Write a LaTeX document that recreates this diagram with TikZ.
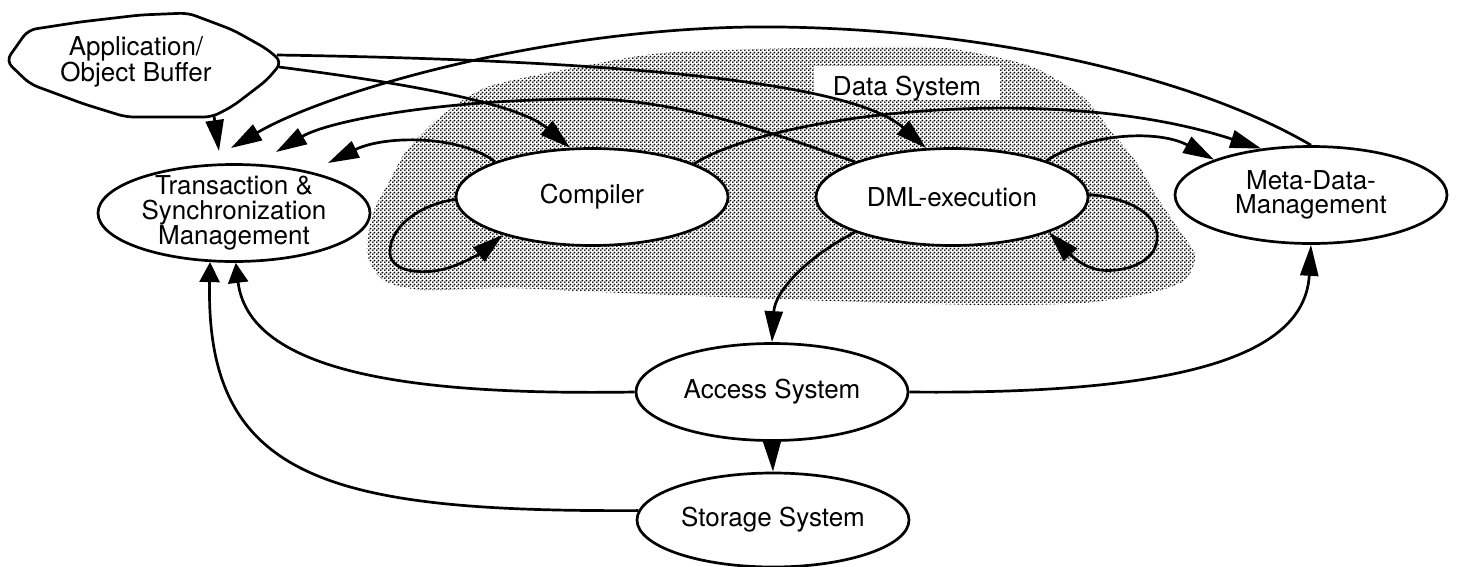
\documentclass[tikz,border=0pt]{standalone}
\usepackage{fontspec}
\setmainfont{TeX Gyre Heros}
\usetikzlibrary{arrows.meta,shapes.geometric,patterns.meta}

\newcommand\diagfont{\fontsize{26}{24.5}\selectfont}

% fine dot screen for the data-system region
\tikzdeclarepattern{
  name=stipple,
  type=uncolored,
  bounding box={(0pt,0pt) and (4pt,4pt)},
  tile size={(4pt,4pt)},
  code={
    \pgfpathcircle{\pgfpoint{1pt}{1pt}}{1.2pt}
    \pgfpathcircle{\pgfpoint{3pt}{3pt}}{1.2pt}
    \pgfusepath{fill}
  }
}

\begin{document}
\begin{tikzpicture}[x=1pt,y=-1pt,
  lw/.style={line width=2.7pt},
  ell/.style={ellipse, draw, fill=white, lw, minimum width=272pt,
    minimum height=97pt, inner sep=-40pt, font=\diagfont, align=center},
  conn/.style={lw, -{Triangle[length=31pt,width=18pt]}},
  connshort/.style={lw, -{Triangle[length=20pt,width=20pt]}},
]
\useasboundingbox (0,0) rectangle (1459,566);

% Data System region
\fill[pattern=stipple, pattern color=black]
  plot[smooth cycle, tension=0.45] coordinates {
    (487,87) (573,68) (663,53) (800,48) (926,47) (971,52) (1033,67)
    (1083,97) (1110,130) (1137,163) (1157,197) (1177,227) (1195,255)
    (1185,280) (1150,293) (1083,303) (983,305) (800,300) (600,292)
    (507,288) (423,290) (383,280) (367,253) (373,213) (390,180)
    (407,150) (440,117)};
\node[fill=white, minimum width=186pt, minimum height=34pt, inner sep=0pt,
  text height=26pt, text depth=2pt, font=\diagfont] (ds) at (907,83) {Data System};

% Application / object buffer blob
\draw[lw, fill=white, rounded corners=8pt]
  (6,61) -- (28,30) -- (80,22) -- (140,15) -- (188,13) -- (233,30)
  -- (267,49) -- (282,62) -- (267,80) -- (233,106) -- (212,117)
  -- (126,117) -- (84,104) -- (30,84) -- cycle;
\node[font=\diagfont, align=center, inner sep=0pt] (app) at (136,62)
  {Application/\\Object Buffer};
\coordinate (appNE) at (277,55);
\coordinate (appE) at (279,67);
\coordinate (appS) at (214,116);

% components
\node[ell] (tsm) at (234,213) {Transaction \&\\Synchronization\\Management};
\node[ell] (comp) at (592,197) {Compiler};
\node[ell] (dml) at (952,197) {DML-execution};
\node[ell] (meta) at (1311,195) {Meta-Data-\\Management};
\node[ell] (acc) at (772,392) {Access System};
\node[ell, minimum height=94pt] (stor) at (773,520) {Storage System};

% arrow ends above the transaction manager
\coordinate (tA) at (219,151);
\coordinate (tB) at (231,148);
\coordinate (tC) at (276,152);
\coordinate (tD) at (328,163);

% connectors
\draw[conn] (appS) -- (tA);
\draw[conn] (appE) .. controls (420,85) and (520,105) .. (comp.114);
\draw[conn] (appNE) .. controls (600,60) and (850,80) .. (dml.118);
\draw[conn] (meta.90) .. controls (1200,80) and (1000,30) .. (780,27)
  .. controls (560,24) and (330,90) .. (tB);
\draw[conn] (dml.160) .. controls (790,140) and (700,104) .. (600,99)
  .. controls (450,98) and (330,120) .. (tC);
\draw[conn] (comp.18) .. controls (770,115) and (1050,80) .. (meta.137);
\draw[conn] (comp.160) .. controls (460,135) and (385,135) .. (tD);
\draw[conn] (dml.21) .. controls (1090,132) and (1160,130) .. (meta.160);
\draw[conn] (comp.181) .. controls (420,205) and (392,225) .. (390,250)
  .. controls (388,272) and (420,274) .. (440,270)
  .. controls (460,266) and (482,252) .. (comp.203);
\draw[conn] (dml.1) .. controls (1130,198) and (1160,215) .. (1157,240)
  .. controls (1155,262) and (1125,273) .. (1100,270)
  .. controls (1080,267) and (1066,250) .. (dml.340);
\draw[conn] (dml.200) .. controls (810,255) and (775,290) .. (acc.90);
\draw[conn] (acc.270) -- (stor.90);
\draw[connshort] (acc.180) .. controls (440,395) and (250,380) .. (tsm.272);
\draw[connshort] (stor.176) .. controls (330,512) and (205,480) .. (tsm.244);
\draw[conn] (acc.0) .. controls (1200,395) and (1305,350) .. (meta.270);
\end{tikzpicture}
\end{document}
